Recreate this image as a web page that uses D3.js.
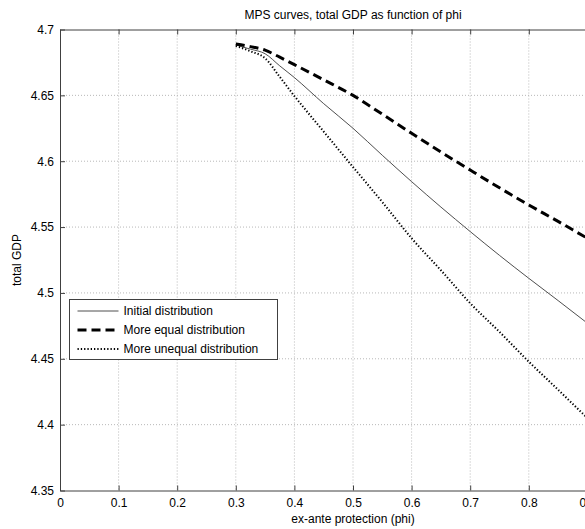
<!DOCTYPE html>
<html>
<head>
<meta charset="utf-8">
<script src="https://cdn.jsdelivr.net/npm/d3@7"></script>
<style>
  html, body { margin: 0; padding: 0; background: #fff; overflow: hidden; }
  svg { display: block; font-family: "Liberation Sans", Arial, sans-serif; }
</style>
</head>
<body>
<div id="chart"></div>
<script>
// ex-ante protection (phi)
const phi = [0.3, 0.325, 0.35, 0.375, 0.4, 0.45, 0.5, 0.55, 0.6, 0.65, 0.7, 0.75, 0.8, 0.85, 0.9, 0.95, 1.0];

// total GDP for each distribution
const initialGDP = [4.6882, 4.6851, 4.6816, 4.6724, 4.6635, 4.6437, 4.6250, 4.6045, 4.5845, 4.5652, 4.5466, 4.5285, 4.5111, 4.4942, 4.4770, 4.4600, 4.4430];
const equalGDP   = [4.6890, 4.6870, 4.6843, 4.6790, 4.6733, 4.6618, 4.6500, 4.6357, 4.6212, 4.6070, 4.5933, 4.5798, 4.5668, 4.5543, 4.5415, 4.5290, 4.5170];
const unequalGDP = [4.6875, 4.6835, 4.6782, 4.6640, 4.6495, 4.6225, 4.5956, 4.5690, 4.5415, 4.5172, 4.4922, 4.4704, 4.4478, 4.4265, 4.4050, 4.3840, 4.3630];

const seriesNames = ["Initial distribution", "More equal distribution", "More unequal distribution"];

const xTicks = [0, 0.1, 0.2, 0.3, 0.4, 0.5, 0.6, 0.7, 0.8, 0.9, 1];
const yTicks = [4.35, 4.4, 4.45, 4.5, 4.55, 4.6, 4.65, 4.7];

const titleText = "MPS curves, total GDP as function of phi";
const xLabel = "ex-ante protection (phi)";
const yLabel = "total GDP";

const W = 700, H = 529;
const margin = { left: 60, top: 29.5, right: 54, bottom: 38.5 };
const plotW = W - margin.left - margin.right;   // 586
const plotH = H - margin.top - margin.bottom;   // 461

const svg = d3.select("#chart").append("svg")
  .attr("width", W).attr("height", H);

const x = d3.scaleLinear().domain([0, 1]).range([margin.left, margin.left + plotW]);
const y = d3.scaleLinear().domain([4.35, 4.7]).range([margin.top + plotH, margin.top]);

const axisColor = "#404040";
const gridColor = "#b8b8b8";

// dotted grid
const grid = svg.append("g");
grid.selectAll(".gx").data(xTicks.slice(1, -1)).join("line")
  .attr("x1", d => x(d)).attr("x2", d => x(d))
  .attr("y1", margin.top).attr("y2", margin.top + plotH)
  .attr("stroke", gridColor).attr("stroke-width", 1).attr("stroke-dasharray", "1,2");
grid.selectAll(".gy").data(yTicks.slice(1, -1)).join("line")
  .attr("x1", margin.left).attr("x2", margin.left + plotW)
  .attr("y1", d => y(d)).attr("y2", d => y(d))
  .attr("stroke", gridColor).attr("stroke-width", 1).attr("stroke-dasharray", "1,2");

// axes with inward ticks
const xAxis = d3.axisBottom(x).tickValues(xTicks).tickFormat(d3.format("")).tickSizeInner(-5).tickSizeOuter(0).tickPadding(8);
const yAxis = d3.axisLeft(y).tickValues(yTicks).tickFormat(d3.format("")).tickSizeInner(-5).tickSizeOuter(0).tickPadding(6);

const gx = svg.append("g").attr("transform", `translate(0,${margin.top + plotH})`).call(xAxis);
const gy = svg.append("g").attr("transform", `translate(${margin.left},0)`).call(yAxis);
const gxTop = svg.append("g").attr("transform", `translate(0,${margin.top})`)
  .call(d3.axisTop(x).tickValues(xTicks).tickFormat("").tickSizeInner(-5).tickSizeOuter(0));
const gyRight = svg.append("g").attr("transform", `translate(${margin.left + plotW},0)`)
  .call(d3.axisRight(y).tickValues(yTicks).tickFormat("").tickSizeInner(-5).tickSizeOuter(0));

[gx, gy, gxTop, gyRight].forEach(g => {
  g.select(".domain").attr("stroke", axisColor).attr("stroke-width", 1);
  g.selectAll(".tick line").attr("stroke", axisColor);
  g.selectAll(".tick text").attr("fill", "#000").attr("font-size", 12)
    .attr("font-family", "'Liberation Sans', Arial, sans-serif");
});

// curves
const series = [
  { name: seriesNames[0], values: initialGDP, stroke: "#3a3a3a", width: 0.9, dash: null },
  { name: seriesNames[1], values: equalGDP,   stroke: "#000",    width: 3,   dash: "9,5" },
  { name: seriesNames[2], values: unequalGDP, stroke: "#000",    width: 2,   dash: "1.3,2" }
];

const line = d3.line()
  .x((d, i) => x(phi[i]))
  .y(d => y(d))
  .curve(d3.curveMonotoneX);

svg.append("defs").append("clipPath").attr("id", "plotClip")
  .append("rect").attr("x", margin.left).attr("y", margin.top).attr("width", plotW).attr("height", plotH);

svg.append("g").attr("clip-path", "url(#plotClip)")
  .selectAll("path").data(series).join("path")
  .attr("d", d => line(d.values))
  .attr("fill", "none")
  .attr("stroke", d => d.stroke)
  .attr("stroke-width", d => d.width)
  .attr("stroke-dasharray", d => d.dash);

// legend
const lg = svg.append("g").attr("transform", "translate(69.5,299.5)");
lg.append("rect").attr("width", 208).attr("height", 60)
  .attr("fill", "#fff").attr("stroke", axisColor).attr("stroke-width", 1);
series.forEach((s, i) => {
  const cy = 11.5 + i * 19;
  lg.append("line").attr("x1", 8).attr("x2", 49).attr("y1", cy).attr("y2", cy)
    .attr("stroke", s.stroke).attr("stroke-width", s.width)
    .attr("stroke-dasharray", s.dash);
  lg.append("text").attr("x", 54).attr("y", cy).attr("dy", "0.35em")
    .attr("font-size", 12).attr("fill", "#000").text(s.name);
});

// titles
svg.append("text").attr("x", x(0.5)).attr("y", 19).attr("text-anchor", "middle")
  .attr("font-size", 12).attr("fill", "#000").text(titleText);
svg.append("text").attr("x", x(0.5)).attr("y", 523).attr("text-anchor", "middle")
  .attr("font-size", 12).attr("fill", "#000").text(xLabel);
svg.append("text").attr("transform", `translate(21,${margin.top + plotH / 2}) rotate(-90)`)
  .attr("text-anchor", "middle").attr("font-size", 12).attr("fill", "#000").text(yLabel);
</script>
</body>
</html>
